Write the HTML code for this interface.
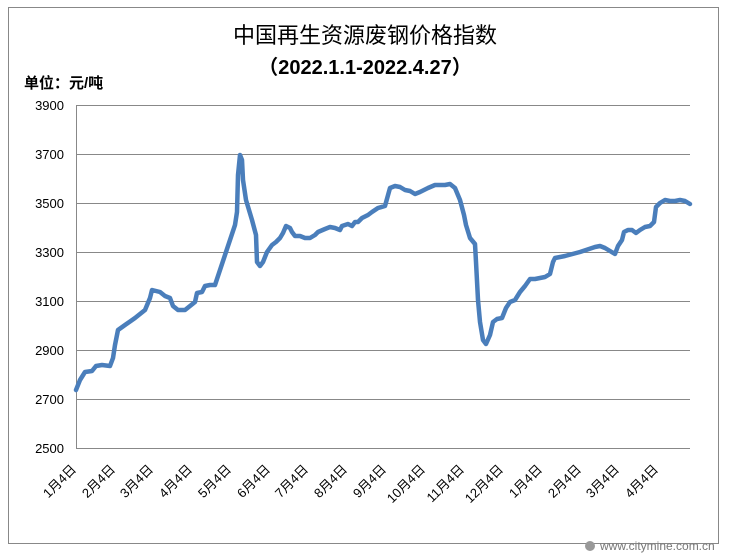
<!DOCTYPE html>
<html><head><meta charset="utf-8"><style>
body{margin:0;background:#fff;}
svg text{font-family:"Liberation Sans","Noto Sans CJK SC",sans-serif;}
</style></head><body>
<svg width="731" height="554" xmlns="http://www.w3.org/2000/svg">
<rect x="0" y="0" width="731" height="554" fill="#fff"/>
<rect x="8.5" y="7.5" width="710" height="536" fill="none" stroke="#888" stroke-width="1"/>
<text x="365" y="43" font-size="22" text-anchor="middle" font-family="Noto Sans CJK SC" fill="#000">中国再生资源废钢价格指数</text>
<text x="365" y="74" font-size="20" font-weight="bold" text-anchor="middle" fill="#000">（2022.1.1-2022.4.27）</text>
<text x="24" y="88" font-size="15" font-weight="bold" fill="#000">单位：元/吨</text>
<g stroke="#888" stroke-width="1">
<line x1="76" y1="105.5" x2="690" y2="105.5"/>
<line x1="76" y1="154.5" x2="690" y2="154.5"/>
<line x1="76" y1="203.5" x2="690" y2="203.5"/>
<line x1="76" y1="252.5" x2="690" y2="252.5"/>
<line x1="76" y1="301.5" x2="690" y2="301.5"/>
<line x1="76" y1="350.5" x2="690" y2="350.5"/>
<line x1="76" y1="399.5" x2="690" y2="399.5"/>
<line x1="76" y1="448.5" x2="690" y2="448.5"/>
<line x1="76.5" y1="105" x2="76.5" y2="448"/>
</g>
<g font-size="13" text-anchor="end" fill="#000">
<text x="64" y="110">3900</text><text x="64" y="159">3700</text><text x="64" y="208">3500</text>
<text x="64" y="257">3300</text><text x="64" y="306">3100</text><text x="64" y="355">2900</text>
<text x="64" y="404">2700</text><text x="64" y="453">2500</text>
</g>
<g font-size="13" text-anchor="end" fill="#000">
<text transform="translate(77,470) rotate(-45)">1月4日</text>
<text transform="translate(116,470) rotate(-45)">2月4日</text>
<text transform="translate(154,470) rotate(-45)">3月4日</text>
<text transform="translate(193,470) rotate(-45)">4月4日</text>
<text transform="translate(232,470) rotate(-45)">5月4日</text>
<text transform="translate(271,470) rotate(-45)">6月4日</text>
<text transform="translate(309,470) rotate(-45)">7月4日</text>
<text transform="translate(348,470) rotate(-45)">8月4日</text>
<text transform="translate(387,470) rotate(-45)">9月4日</text>
<text transform="translate(426,470) rotate(-45)">10月4日</text>
<text transform="translate(465,470) rotate(-45)">11月4日</text>
<text transform="translate(504,470) rotate(-45)">12月4日</text>
<text transform="translate(543,470) rotate(-45)">1月4日</text>
<text transform="translate(582,470) rotate(-45)">2月4日</text>
<text transform="translate(620,470) rotate(-45)">3月4日</text>
<text transform="translate(659,470) rotate(-45)">4月4日</text>
</g>
<polyline fill="none" stroke="#4a7ebb" stroke-width="4.5" stroke-linejoin="round" stroke-linecap="round" points="76,390 80,380 85,372 92,371 96,366 102,365 110,366 113,358 115,345 118,330 125,325 135,318 145,310 150,298 152,290 160,292 165,296 170,298 173,306 178,310 185,310 190,306 195,302 197,293 202,292 205,286 210,285 215,285 220,270 225,255 230,240 235,225 237,212 238,175 240,155 242,160 243,180 246,200 252,220 256,235 257,262 260,266 263,262 267,252 272,245 276,242 280,238 283,233 286,226 290,228 292,232 295,236 300,236 305,238 310,238 315,235 318,232 325,229 330,227 335,228 340,230 342,226 348,224 352,226 355,222 358,222 362,218 368,215 372,212 378,208 385,206 390,188 395,186 400,187 405,190 410,191 415,194 420,192 428,188 435,185 440,185 445,185 450,184 455,188 460,200 464,215 466,225 470,238 475,244 476,262 478,300 480,322 483,340 486,344 490,335 493,322 497,319 502,318 506,308 510,302 515,300 520,292 525,286 530,279 535,279 545,277 550,274 553,262 555,258 565,256 580,252 595,247 600,246 605,248 610,251 615,254 618,246 622,240 624,232 628,230 632,230 636,233 640,230 645,227 650,226 654,222 656,207 660,203 665,200 670,201 675,201 680,200 685,201 690,204"/>
<circle cx="590" cy="546" r="5" fill="#999"/>
<text x="600" y="550" font-size="12" fill="#777">www.citymine.com.cn</text>
</svg>
</body></html>
